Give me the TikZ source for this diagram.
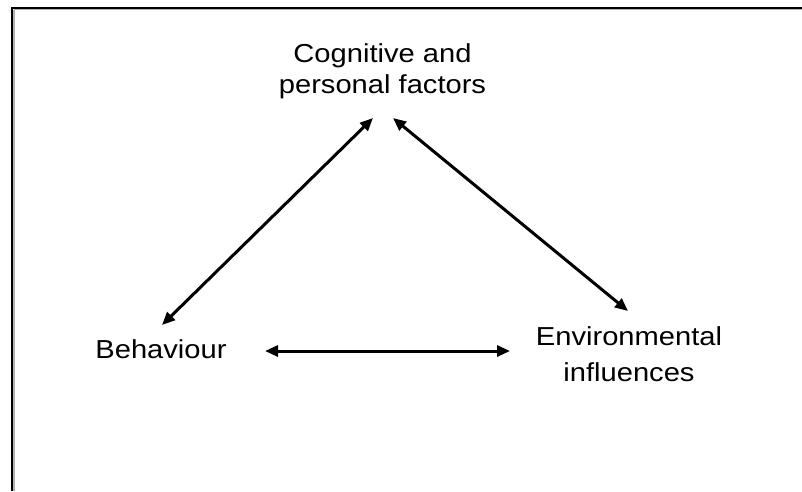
\documentclass[tikz,border=0pt]{standalone}
\usepackage{fontspec}
\setmainfont{Liberation Sans}
\usetikzlibrary{arrows.meta}
\newcommand\widetext[1]{\scalebox{1.12}[1]{#1}}
\begin{document}
\begin{tikzpicture}[x=1pt,y=-1pt,
  label/.style={inner sep=0pt, anchor=base, align=center},
  link/.style={line width=3pt, {Triangle[length=13pt,width=11pt]}-{Triangle[length=13pt,width=11pt]}}]
\useasboundingbox (0,0) rectangle (802,491);
\fill[white] (0,0) rectangle (802,491);
% frame (top and left edges, with a light shadow line)
\draw[gray!60, line width=1.2pt] (14,9.8) -- (802,9.8);
\draw[gray!60, line width=1.2pt] (14,9.8) -- (14,491);
\draw[black, line width=2pt] (802,8) -- (12,8) -- (12,491);
% labels (the base anchor sits on the last line)
\node[label, font=\fontsize{26}{31}\selectfont] (cog) at (382.5,93)
  {\widetext{Cognitive and}\\\widetext{personal factors}};
\node[label, font=\fontsize{26}{36}\selectfont] (beh) at (161,358)
  {\widetext{Behaviour}};
\node[label, font=\fontsize{26}{36}\selectfont] (env) at (629,381)
  {\widetext{Environmental}\\\widetext{influences}};
% arrow ends
\coordinate (cogL) at (373,118);
\coordinate (cogR) at (393,118);
\coordinate (behT) at (162,325);
\coordinate (behR) at (265,351);
\coordinate (envT) at (628,311);
\coordinate (envL) at (510,351);
% reciprocal links
\draw[link] (behT) -- (cogL);
\draw[link] (cogR) -- (envT);
\draw[link] (behR) -- (envL);
\end{tikzpicture}
\end{document}
